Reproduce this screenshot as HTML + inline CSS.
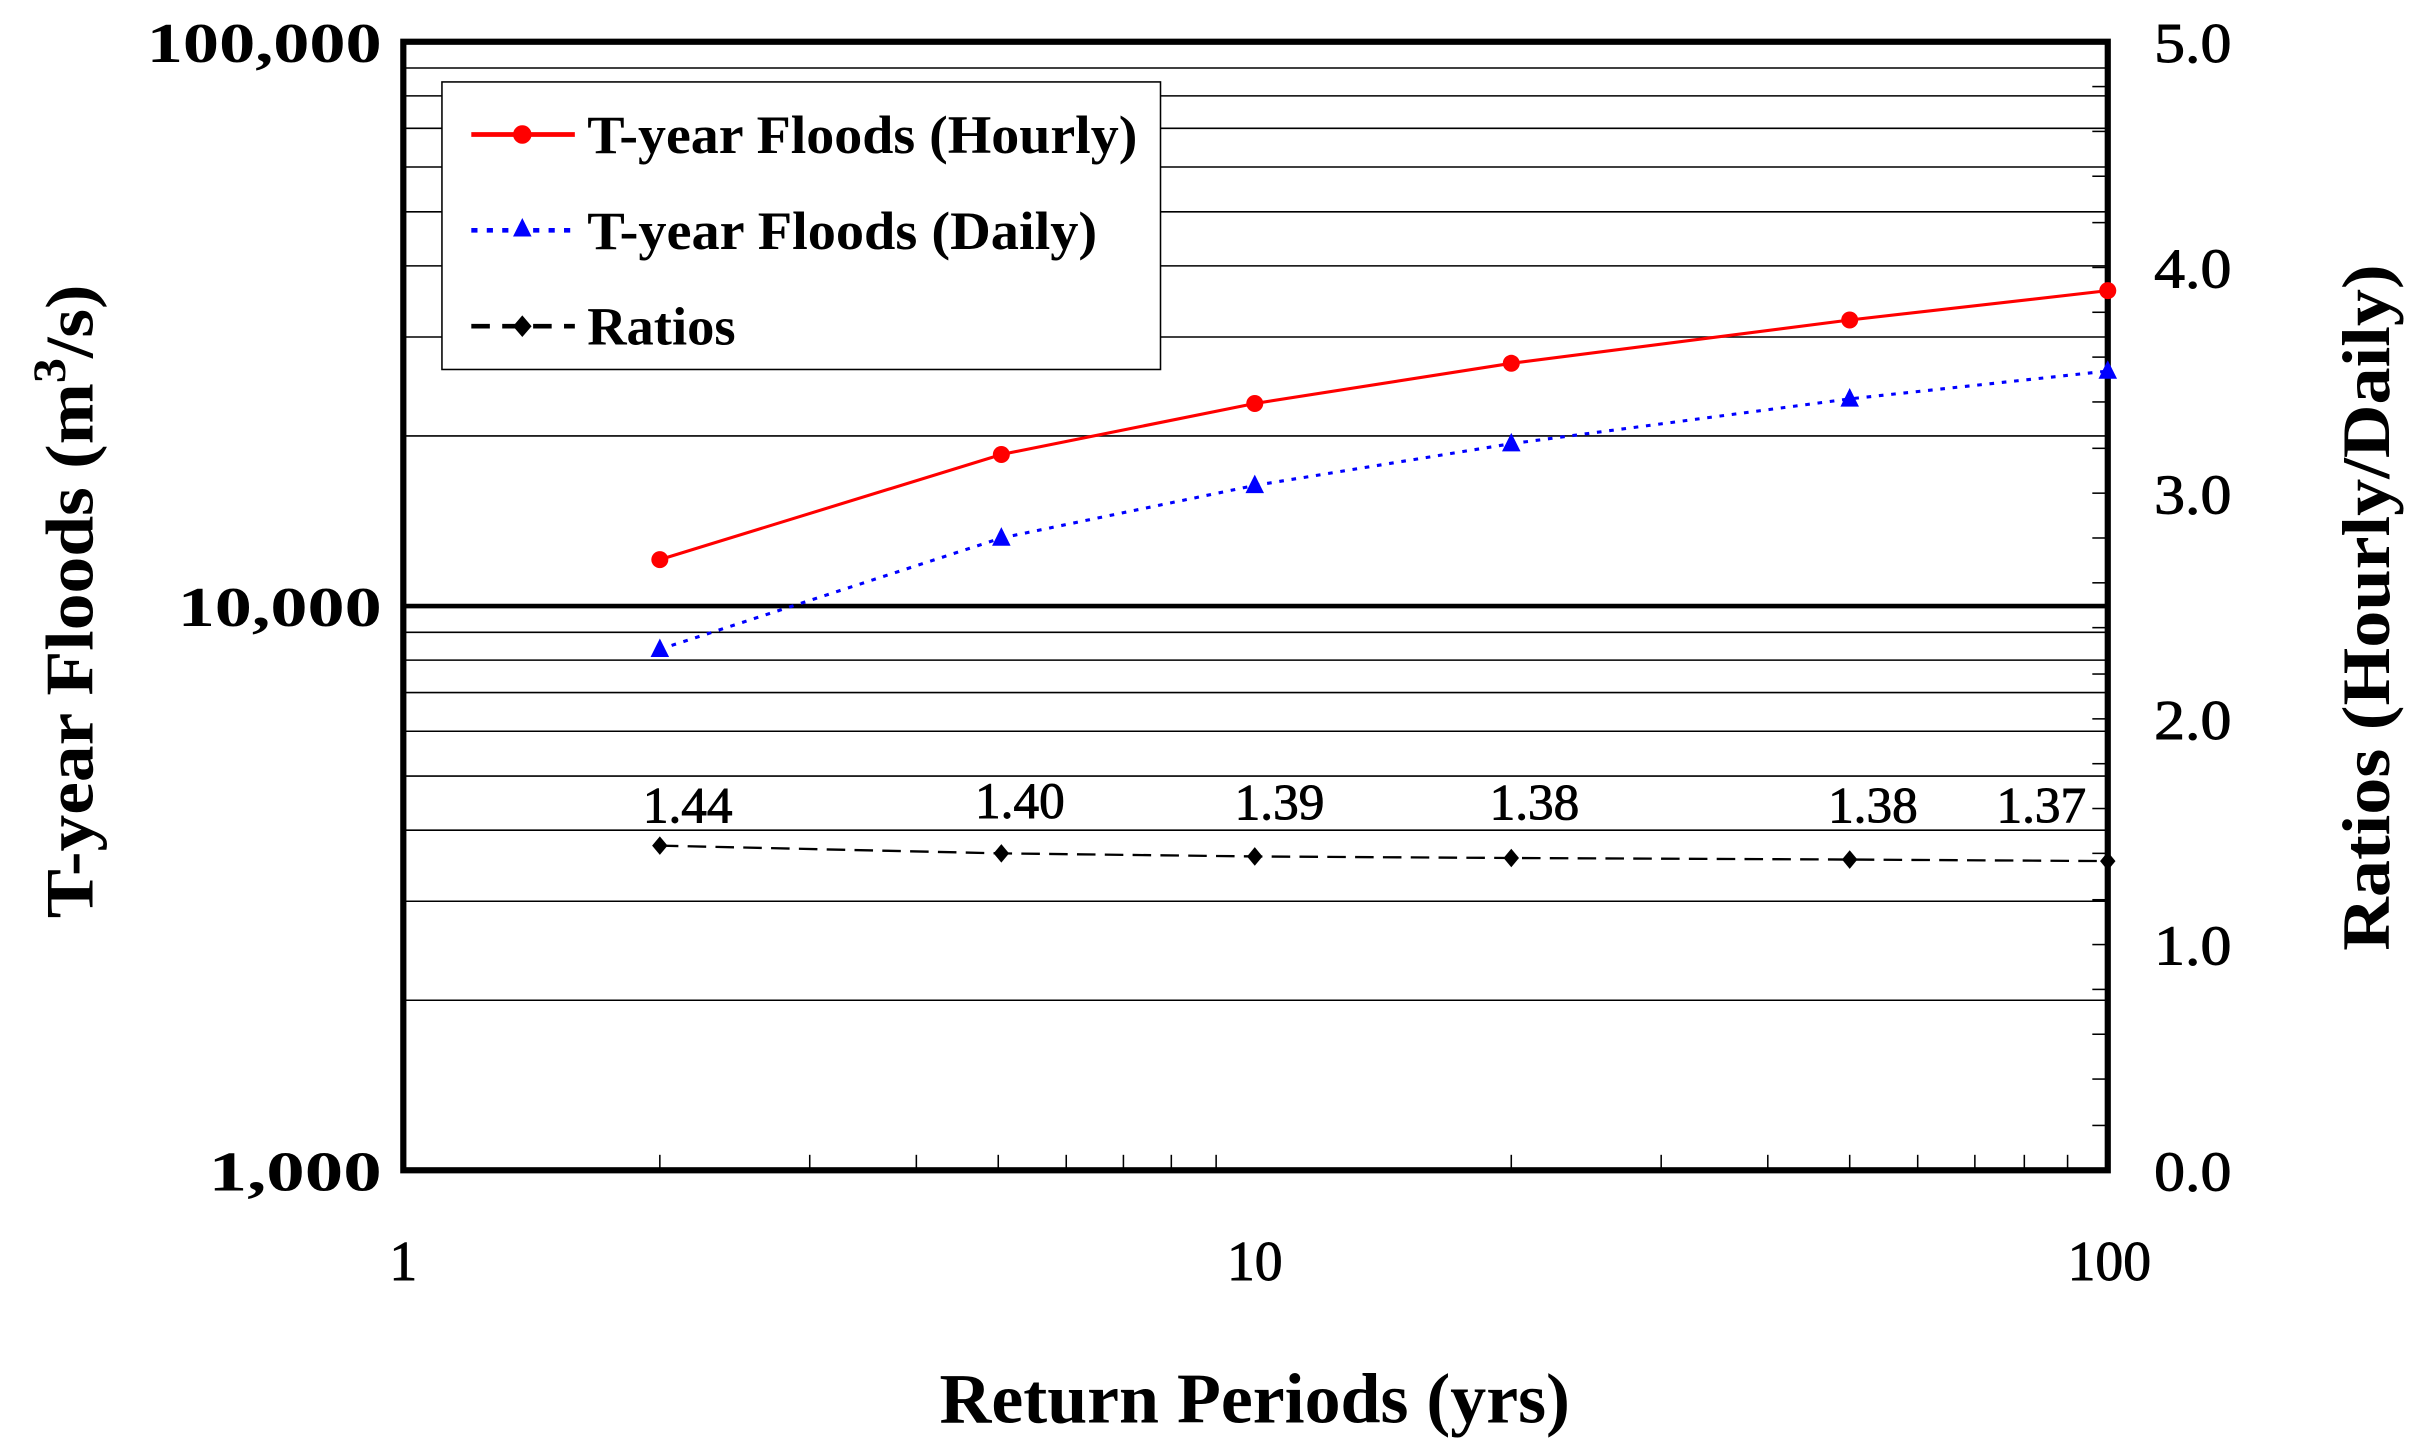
<!DOCTYPE html>
<html><head><meta charset="utf-8"><style>html,body{margin:0;padding:0;background:#fff}svg{display:block}</style></head><body>
<svg width="2423" height="1447" viewBox="0 0 1568 936" preserveAspectRatio="none" xmlns="http://www.w3.org/2000/svg" font-family="'Liberation Serif', serif" font-weight="bold">
<rect width="1568" height="936" fill="#fff"/>
<g stroke="#000" stroke-width="1">
<line x1="261" x2="1364" y1="44" y2="44"/><line x1="261" x2="1364" y1="62" y2="62"/><line x1="261" x2="1364" y1="83" y2="83"/><line x1="261" x2="1364" y1="108" y2="108"/><line x1="261" x2="1364" y1="137" y2="137"/><line x1="261" x2="1364" y1="172" y2="172"/><line x1="261" x2="1364" y1="218" y2="218"/><line x1="261" x2="1364" y1="282" y2="282"/>
<line x1="261" x2="1364" y1="409" y2="409"/><line x1="261" x2="1364" y1="427" y2="427"/><line x1="261" x2="1364" y1="448" y2="448"/><line x1="261" x2="1364" y1="473" y2="473"/><line x1="261" x2="1364" y1="502" y2="502"/><line x1="261" x2="1364" y1="537" y2="537"/><line x1="261" x2="1364" y1="583" y2="583"/><line x1="261" x2="1364" y1="647" y2="647"/>
</g>
<line x1="261" x2="1364" y1="392" y2="392" stroke="#000" stroke-width="3"/>
<g stroke="#000" stroke-width="1">
<line x1="1354" x2="1364" y1="56" y2="56"/><line x1="1354" x2="1364" y1="85" y2="85"/><line x1="1354" x2="1364" y1="114" y2="114"/><line x1="1354" x2="1364" y1="144" y2="144"/><line x1="1354" x2="1364" y1="173" y2="173"/><line x1="1354" x2="1364" y1="202" y2="202"/><line x1="1354" x2="1364" y1="231" y2="231"/><line x1="1354" x2="1364" y1="260" y2="260"/><line x1="1354" x2="1364" y1="290" y2="290"/><line x1="1354" x2="1364" y1="319" y2="319"/><line x1="1354" x2="1364" y1="348" y2="348"/><line x1="1354" x2="1364" y1="377" y2="377"/><line x1="1354" x2="1364" y1="406" y2="406"/><line x1="1354" x2="1364" y1="436" y2="436"/><line x1="1354" x2="1364" y1="465" y2="465"/><line x1="1354" x2="1364" y1="494" y2="494"/><line x1="1354" x2="1364" y1="523" y2="523"/><line x1="1354" x2="1364" y1="552" y2="552"/><line x1="1354" x2="1364" y1="582" y2="582"/><line x1="1354" x2="1364" y1="611" y2="611"/><line x1="1354" x2="1364" y1="640" y2="640"/><line x1="1354" x2="1364" y1="669" y2="669"/><line x1="1354" x2="1364" y1="698" y2="698"/><line x1="1354" x2="1364" y1="728" y2="728"/>
<line x1="427" x2="427" y1="747" y2="757"/><line x1="524" x2="524" y1="747" y2="757"/><line x1="593" x2="593" y1="747" y2="757"/><line x1="646" x2="646" y1="747" y2="757"/><line x1="690" x2="690" y1="747" y2="757"/><line x1="727" x2="727" y1="747" y2="757"/><line x1="758" x2="758" y1="747" y2="757"/><line x1="787" x2="787" y1="747" y2="757"/>
<line x1="978" x2="978" y1="747" y2="757"/><line x1="1075" x2="1075" y1="747" y2="757"/><line x1="1144" x2="1144" y1="747" y2="757"/><line x1="1197" x2="1197" y1="747" y2="757"/><line x1="1241" x2="1241" y1="747" y2="757"/><line x1="1278" x2="1278" y1="747" y2="757"/><line x1="1310" x2="1310" y1="747" y2="757"/><line x1="1338" x2="1338" y1="747" y2="757"/>
</g>
<rect x="261" y="27" width="1103" height="730" fill="none" stroke="#000" stroke-width="4"/>
<rect x="286" y="53" width="465" height="186" fill="#fff" stroke="#000" stroke-width="1"/>
<polyline points="427,362 648,294 812,261 978,235 1197,207 1364,188" fill="none" stroke="#f00" stroke-width="2"/>
<g fill="#f00"><circle cx="427" cy="362" r="5.5"/><circle cx="648" cy="294" r="5.5"/><circle cx="812" cy="261" r="5.5"/><circle cx="978" cy="235" r="5.5"/><circle cx="1197" cy="207" r="5.5"/><circle cx="1364" cy="188" r="5.5"/></g>
<polyline points="427,420 648,348 812,314 978,287 1197,258 1364,240" fill="none" stroke="#00f" stroke-width="2" stroke-dasharray="3,5"/>
<g fill="#00f"><path d="M427,413 l6,12 h-12z"/><path d="M648,341 l6,12 h-12z"/><path d="M812,307 l6,12 h-12z"/><path d="M978,280 l6,12 h-12z"/><path d="M1197,251 l6,12 h-12z"/><path d="M1364,233 l6,12 h-12z"/></g>
<polyline points="427,547 648,552 812,554 978,555 1197,556 1364,557" fill="none" stroke="#000" stroke-width="1.5" stroke-dasharray="12,6"/>
<g fill="#000"><path d="M427,541 l5,6 -5,6 -5,-6z"/><path d="M648,546 l5,6 -5,6 -5,-6z"/><path d="M812,548 l5,6 -5,6 -5,-6z"/><path d="M978,549 l5,6 -5,6 -5,-6z"/><path d="M1197,550 l5,6 -5,6 -5,-6z"/><path d="M1364,551 l5,6 -5,6 -5,-6z"/></g>
<g font-size="33" font-weight="normal" text-anchor="middle" stroke="#000" stroke-width="0.6">
<text x="445" y="532" textLength="58" lengthAdjust="spacingAndGlyphs">1.44</text><text x="660" y="529" textLength="58" lengthAdjust="spacingAndGlyphs">1.40</text><text x="828" y="530" textLength="58" lengthAdjust="spacingAndGlyphs">1.39</text><text x="993" y="530" textLength="58" lengthAdjust="spacingAndGlyphs">1.38</text><text x="1212" y="532" textLength="58" lengthAdjust="spacingAndGlyphs">1.38</text><text x="1321" y="532" textLength="58" lengthAdjust="spacingAndGlyphs">1.37</text>
</g>
<line x1="305" x2="372" y1="87" y2="87" stroke="#f00" stroke-width="3"/><circle cx="338" cy="87" r="6" fill="#f00"/>
<line x1="305" x2="372" y1="149" y2="149" stroke="#00f" stroke-width="3" stroke-dasharray="4,6"/><path d="M338,141 l6,12 h-12z" fill="#00f"/>
<line x1="305" x2="372" y1="211" y2="211" stroke="#000" stroke-width="3" stroke-dasharray="12,8"/><path d="M338,204 l6,7 -6,7 -6,-7z"/>
<g font-size="35">
<text x="380" y="99" textLength="356" lengthAdjust="spacingAndGlyphs">T-year Floods (Hourly)</text>
<text x="380" y="161" textLength="330" lengthAdjust="spacingAndGlyphs">T-year Floods (Daily)</text>
<text x="380" y="223" textLength="96" lengthAdjust="spacingAndGlyphs">Ratios</text>
</g>
<g font-size="36" text-anchor="end">
<text x="247" y="40" textLength="152" lengthAdjust="spacingAndGlyphs">100,000</text><text x="247" y="405" textLength="132" lengthAdjust="spacingAndGlyphs">10,000</text><text x="247" y="770" textLength="112" lengthAdjust="spacingAndGlyphs">1,000</text>
</g>
<g font-size="36" font-weight="normal" stroke="#000" stroke-width="0.6">
<text x="1394" y="40" textLength="50" lengthAdjust="spacingAndGlyphs">5.0</text><text x="1394" y="186" textLength="50" lengthAdjust="spacingAndGlyphs">4.0</text><text x="1394" y="332" textLength="50" lengthAdjust="spacingAndGlyphs">3.0</text><text x="1394" y="478" textLength="50" lengthAdjust="spacingAndGlyphs">2.0</text><text x="1394" y="624" textLength="50" lengthAdjust="spacingAndGlyphs">1.0</text><text x="1394" y="770" textLength="50" lengthAdjust="spacingAndGlyphs">0.0</text>
</g>
<g font-size="36" font-weight="normal" text-anchor="middle" stroke="#000" stroke-width="0.6">
<text x="261" y="828">1</text><text x="812" y="828" textLength="36" lengthAdjust="spacingAndGlyphs">10</text><text x="1365" y="828" textLength="54" lengthAdjust="spacingAndGlyphs">100</text>
</g>
<text x="812" y="920" font-size="46" text-anchor="middle" textLength="408" lengthAdjust="spacingAndGlyphs">Return Periods (yrs)</text>
<text transform="translate(60,389) rotate(-90)" font-size="44" text-anchor="middle" textLength="410" lengthAdjust="spacingAndGlyphs">T-year Floods (m<tspan dy="-18" font-size="30">3</tspan><tspan dy="18">/s)</tspan></text>
<text transform="translate(1546,393) rotate(-90)" font-size="44" text-anchor="middle" textLength="444" lengthAdjust="spacingAndGlyphs">Ratios (Hourly/Daily)</text>
</svg>
</body></html>
